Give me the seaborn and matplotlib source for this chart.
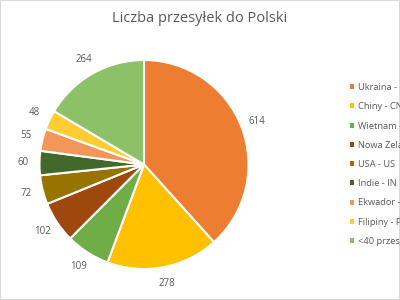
import matplotlib
matplotlib.use("Agg")
import matplotlib.pyplot as plt
import seaborn as sns
from matplotlib.patches import Rectangle

categories = ["Ukraina - UA", "Chiny - CN", "Wietnam - VN", "Nowa Zelandia - NZ",
              "USA - US", "Indie - IN", "Ekwador - EC", "Filipiny - PH", "<40 przesyłek"]
values = [614, 278, 109, 102, 72, 60, 55, 48, 264]
colors_hex = ["#ED7D31", "#FFC000", "#70AD47", "#9E480E", "#997300",
              "#43682B", "#F1975A", "#FFCD33", "#8CC168"]
title = "Liczba przesyłek do Polski"

sns.set_theme(style="white")
plt.rcParams['font.family'] = ['Open Sans', 'DejaVu Sans']
palette = sns.color_palette(colors_hex)

fig = plt.figure(figsize=(4, 3), dpi=100)
fig.patch.set_facecolor("white")
W, H = 400, 300
cx, cy, r = 144, 135.5, 104.5
lim = 1.3
size = 2 * lim * r
ax = fig.add_axes([(cx - size / 2) / W, (cy - size / 2) / H, size / W, size / H])
wedges, texts = ax.pie(values, labels=[str(v) for v in values], colors=palette,
                       startangle=90, counterclock=False, labeldistance=1.16,
                       wedgeprops=dict(edgecolor="white", linewidth=1.5),
                       textprops=dict(color="#595959", fontsize=7))
for t in texts:
    t.set_horizontalalignment("center")
    t.set_verticalalignment("center")
ax.set_xlim(-lim, lim)
ax.set_ylim(-lim, lim)
ax.set_aspect("equal")
ax.axis("off")

fig.text(200 / W, 1 - 18 / H, title, ha="center", va="center",
         fontsize=10.5, color="#595959")

leg = fig.legend(wedges, categories, loc="center left",
                 bbox_to_anchor=(350 / W, 1 - 164.5 / H), frameon=False,
                 fontsize=6.7, labelcolor="#595959", handlelength=0.45,
                 handleheight=0.45, handletextpad=0.45, labelspacing=1.1,
                 borderaxespad=0, borderpad=0)
for h in leg.legend_handles:
    h.set_linewidth(0)

fig.patches.append(Rectangle((0, 0), 1, 1, transform=fig.transFigure, fill=False,
                             edgecolor="#D9D9D9", linewidth=1.5))
fig.savefig("out.png", dpi=100, facecolor="white")
